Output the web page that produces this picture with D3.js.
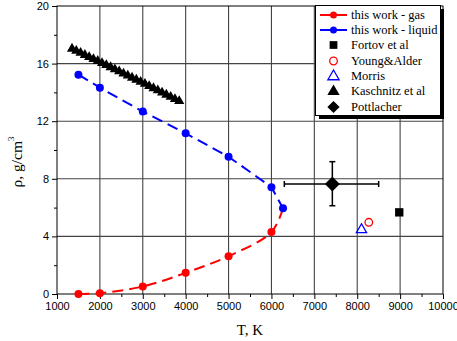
<!DOCTYPE html>
<html>
<head>
<meta charset="utf-8">
<script src="https://cdn.jsdelivr.net/npm/d3@7"></script>
<style>
  body { margin: 0; background: #fff; }
  .tick text { font-family: "Liberation Sans", Arial, sans-serif; font-size: 11px; fill: #000; }
</style>
</head>
<body>
<div id="chart"></div>
<script>
// this work - gas branch
const gasT = [1500, 2000, 3000, 4000, 5000, 6000, 6270];
const gasRho = [0.0, 0.06, 0.52, 1.47, 2.63, 4.3, 5.95];
const gasMarked = [true, true, true, true, true, true, false];

// this work - liquid branch
const liqT = [1500, 2000, 3000, 4000, 5000, 6000, 6270];
const liqRho = [15.23, 14.33, 12.67, 11.16, 9.53, 7.42, 5.95];

// Kaschnitz et al
const kasT = [1350, 1450, 1550, 1650, 1750, 1850, 1950, 2050, 2150, 2250, 2350, 2450, 2550,
              2650, 2750, 2850, 2950, 3050, 3150, 3250, 3350, 3450, 3550, 3650, 3750, 3850];
const kasRho = [17.1, 16.96, 16.82, 16.67, 16.52, 16.38, 16.25, 16.1, 15.96, 15.82, 15.67, 15.53, 15.38,
                15.24, 15.09, 14.95, 14.8, 14.66, 14.51, 14.36, 14.21, 14.06, 13.91, 13.76, 13.61, 13.47];

// single points
const fortov = [8980, 5.67];
const youngAlder = [8270, 4.98];
const morris = [8100, 4.4];
const pottlacher = [7420, 7.64];
const pottlacherErrT = [6300, 8500];
const pottlacherErrRho = [6.13, 9.19];

const xTicks = [1000, 2000, 3000, 4000, 5000, 6000, 7000, 8000, 9000, 10000];
const xMinor = [1500, 2500, 3500, 4500, 5500, 6500, 7500, 8500, 9500];
const yTicks = [0, 4, 8, 12, 16, 20];
const yMinor = [2, 6, 10, 14, 18];

const legendLabels = ['this work - gas', 'this work - liquid', 'Fortov et al', 'Young&Alder',
                      'Morris', 'Kaschnitz et al', 'Pottlacher'];

const serif = '"Liberation Serif", "Times New Roman", Times, serif';
const width = 457, height = 341;
const margin = { left: 57, right: 14, top: 6, bottom: 47 };

const svg = d3.select('#chart').append('svg')
    .attr('width', width)
    .attr('height', height);

const x = d3.scaleLinear().domain([1000, 10000]).range([margin.left, width - margin.right]);
const y = d3.scaleLinear().domain([0, 20]).range([height - margin.bottom, margin.top]);

// grid
const grid = svg.append('g').attr('stroke', '#444').attr('stroke-width', 1.1);
grid.selectAll('.vg').data(xTicks.slice(1, -1)).enter().append('line')
    .attr('x1', d => x(d)).attr('x2', d => x(d))
    .attr('y1', y(0)).attr('y2', y(20));
grid.selectAll('.hg').data(yTicks.slice(1, -1)).enter().append('line')
    .attr('x1', x(1000)).attr('x2', x(10000))
    .attr('y1', d => y(d)).attr('y2', d => y(d));

// frame
svg.append('rect')
    .attr('x', x(1000)).attr('y', y(20))
    .attr('width', x(10000) - x(1000)).attr('height', y(0) - y(20))
    .attr('fill', 'none').attr('stroke', '#000').attr('stroke-width', 1);

// axes
const xAxis = svg.append('g')
    .attr('transform', `translate(0,${y(0)})`)
    .call(d3.axisBottom(x).tickValues(xTicks).tickFormat(d3.format('d')).tickSize(5).tickPadding(3));
xAxis.select('.domain').remove();
svg.append('g')
    .attr('transform', `translate(0,${y(0)})`)
    .call(d3.axisBottom(x).tickValues(xMinor).tickFormat('').tickSize(3))
    .select('.domain').remove();

const yAxis = svg.append('g')
    .attr('transform', `translate(${x(1000)},0)`)
    .call(d3.axisLeft(y).tickValues(yTicks).tickSize(5).tickPadding(3));
yAxis.select('.domain').remove();
svg.append('g')
    .attr('transform', `translate(${x(1000)},0)`)
    .call(d3.axisLeft(y).tickValues(yMinor).tickFormat('').tickSize(3))
    .select('.domain').remove();

// axis titles
svg.append('text')
    .attr('font-family', serif)
    .attr('x', 250)
    .attr('y', 335)
    .attr('text-anchor', 'middle')
    .attr('font-size', 15)
    .text('T, K');

const yl = svg.append('text')
    .attr('font-family', serif)
    .attr('transform', `translate(22,162) rotate(-90)`)
    .attr('text-anchor', 'middle')
    .attr('font-size', 15.5);
yl.append('tspan').text('ρ, g/cm');
yl.append('tspan').attr('dy', -8).attr('font-size', 9).text('3');

// series lines
const gas = gasT.map((t, i) => ({ t, r: gasRho[i], m: gasMarked[i] }));
const liq = liqT.map((t, i) => ({ t, r: liqRho[i] }));

svg.append('path')
    .datum(gas)
    .attr('fill', 'none')
    .attr('stroke', '#ff0000')
    .attr('stroke-width', 2)
    .attr('stroke-dasharray', '11,6')
    .attr('d', d3.line().x(d => x(d.t)).y(d => y(d.r)).curve(d3.curveCatmullRom));
svg.selectAll('.gasdot').data(gas.filter(d => d.m)).enter().append('circle')
    .attr('cx', d => x(d.t)).attr('cy', d => y(d.r)).attr('r', 4)
    .attr('fill', '#ff0000');

svg.append('path')
    .datum(liq)
    .attr('fill', 'none')
    .attr('stroke', '#0000ff')
    .attr('stroke-width', 2)
    .attr('stroke-dasharray', '11,6')
    .attr('d', d3.line().x(d => x(d.t)).y(d => y(d.r)));
svg.selectAll('.liqdot').data(liq).enter().append('circle')
    .attr('cx', d => x(d.t)).attr('cy', d => y(d.r)).attr('r', 4)
    .attr('fill', '#0000ff');

// Kaschnitz triangles
const tri = d3.symbol().type(d3.symbolTriangle).size(45);
svg.selectAll('.kas').data(kasT.map((t, i) => [t, kasRho[i]])).enter().append('path')
    .attr('d', tri)
    .attr('transform', d => `translate(${x(d[0])},${y(d[1]) + 1})`)
    .attr('fill', '#000');

// Pottlacher error bars
const err = svg.append('g').attr('stroke', '#000').attr('stroke-width', 1.5);
err.append('line')
    .attr('x1', x(pottlacherErrT[0])).attr('x2', x(pottlacherErrT[1]))
    .attr('y1', y(pottlacher[1])).attr('y2', y(pottlacher[1]));
err.selectAll('.xc').data(pottlacherErrT).enter().append('line')
    .attr('x1', d => x(d)).attr('x2', d => x(d))
    .attr('y1', y(pottlacher[1]) - 3).attr('y2', y(pottlacher[1]) + 3);
err.append('line')
    .attr('x1', x(pottlacher[0])).attr('x2', x(pottlacher[0]))
    .attr('y1', y(pottlacherErrRho[0])).attr('y2', y(pottlacherErrRho[1]));
err.selectAll('.yc').data(pottlacherErrRho).enter().append('line')
    .attr('x1', x(pottlacher[0]) - 3).attr('x2', x(pottlacher[0]) + 3)
    .attr('y1', d => y(d)).attr('y2', d => y(d));

svg.append('path')
    .attr('d', d3.symbol().type(d3.symbolSquare).size(110))
    .attr('transform', `translate(${x(pottlacher[0])},${y(pottlacher[1])}) rotate(45)`)
    .attr('fill', '#000');

// Fortov square
svg.append('path')
    .attr('d', d3.symbol().type(d3.symbolSquare).size(70))
    .attr('transform', `translate(${x(fortov[0])},${y(fortov[1])})`)
    .attr('fill', '#000');

// Young&Alder open circle
svg.append('circle')
    .attr('cx', x(youngAlder[0])).attr('cy', y(youngAlder[1])).attr('r', 3.8)
    .attr('fill', 'none').attr('stroke', '#ff0000').attr('stroke-width', 1.3);

// Morris open triangle
svg.append('path')
    .attr('d', d3.symbol().type(d3.symbolTriangle).size(45))
    .attr('transform', `translate(${x(morris[0])},${y(morris[1]) - 1})`)
    .attr('fill', 'none').attr('stroke', '#0000ff').attr('stroke-width', 1.3);

// legend
const lg = svg.append('g');
lg.append('rect').attr('x', 319).attr('y', 9).attr('width', 125).attr('height', 110).attr('fill', '#000');
lg.append('rect').attr('x', 315.5).attr('y', 5.5).attr('width', 125).attr('height', 110)
    .attr('fill', '#fff').attr('stroke', '#000').attr('stroke-width', 1);

const rowY = [15, 30, 45, 61, 76, 91, 107];
const sx = 333.5;
lg.selectAll('.lt').data(legendLabels).enter().append('text')
    .attr('font-family', serif)
    .attr('x', 351).attr('y', (d, i) => rowY[i] + 4)
    .attr('font-size', 12.5)
    .text(d => d);

[['#ff0000', 0], ['#0000ff', 1]].forEach(([c, i]) => {
    lg.append('line').attr('x1', 320).attr('x2', 347).attr('y1', rowY[i]).attr('y2', rowY[i])
        .attr('stroke', c).attr('stroke-width', 2);
    lg.append('circle').attr('cx', sx).attr('cy', rowY[i]).attr('r', 3.5).attr('fill', c);
});
lg.append('path').attr('d', d3.symbol().type(d3.symbolSquare).size(60))
    .attr('transform', `translate(${sx},${rowY[2]})`).attr('fill', '#000');
lg.append('circle').attr('cx', sx).attr('cy', rowY[3]).attr('r', 3.8)
    .attr('fill', 'none').attr('stroke', '#ff0000').attr('stroke-width', 1.3);
lg.append('path').attr('d', d3.symbol().type(d3.symbolTriangle).size(55))
    .attr('transform', `translate(${sx},${rowY[4] + 0.5})`)
    .attr('fill', 'none').attr('stroke', '#0000ff').attr('stroke-width', 1.3);
lg.append('path').attr('d', d3.symbol().type(d3.symbolTriangle).size(65))
    .attr('transform', `translate(${sx},${rowY[5] + 0.5})`).attr('fill', '#000');
lg.append('path').attr('d', d3.symbol().type(d3.symbolSquare).size(75))
    .attr('transform', `translate(${sx},${rowY[6]}) rotate(45)`).attr('fill', '#000');
</script>
</body>
</html>
